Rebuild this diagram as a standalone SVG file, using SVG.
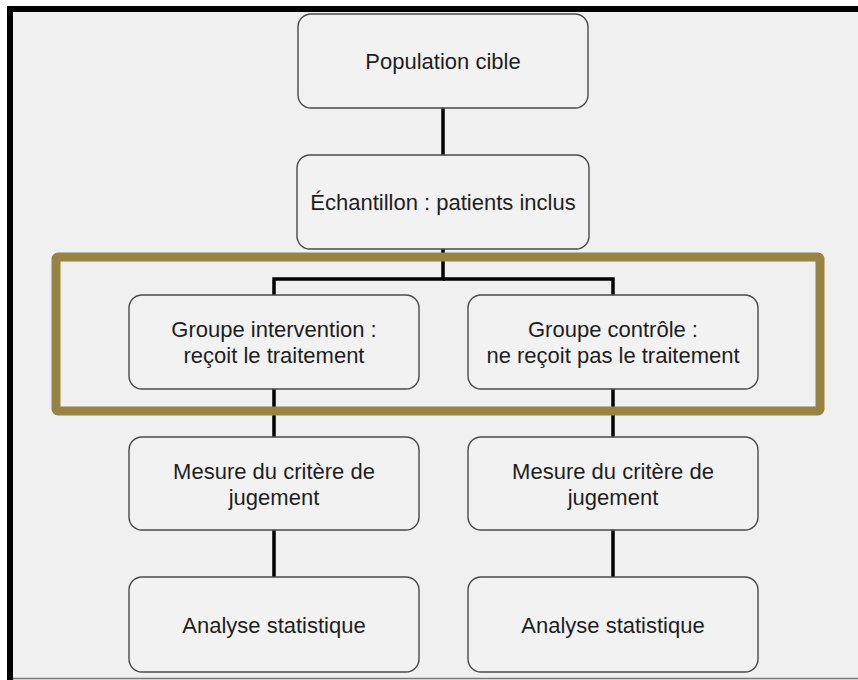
<svg xmlns="http://www.w3.org/2000/svg" width="858" height="680" viewBox="0 0 858 680">
<style>
.box{fill:#f2f2f2;stroke:#4a4a4a;stroke-width:1.4}
.t{font-family:"Liberation Sans",Arial,sans-serif;font-size:22px;fill:#1e1e1e;text-anchor:middle}
.c{fill:none;stroke:#000;stroke-width:3.5}
</style>
<rect x="0" y="0" width="858" height="680" fill="#ffffff"/>
<rect x="10" y="9" width="860" height="680" fill="#f0f0f0" stroke="#000" stroke-width="6"/>
<line x1="13" y1="678.5" x2="858" y2="678.5" stroke="#777" stroke-width="1.5"/>
<g id="connectors">
<line class="c" x1="443" y1="108" x2="443" y2="155"/>
<polyline class="c" points="443,249 443,279 274,279 274,295"/>
<polyline class="c" points="443,279 613,279 613,295"/>
<line class="c" x1="274" y1="389" x2="274" y2="437"/>
<line class="c" x1="613" y1="389" x2="613" y2="437"/>
<line class="c" x1="274" y1="530" x2="274" y2="577"/>
<line class="c" x1="613" y1="530" x2="613" y2="577"/>
</g>
<g id="population">
<rect class="box" x="298" y="14" width="290" height="94" rx="13"/>
<text class="t" x="443" y="69">Population cible</text>
</g>
<g id="echantillon">
<rect class="box" x="297" y="155" width="292" height="94" rx="13"/>
<text class="t" x="443" y="210">Échantillon : patients inclus</text>
</g>
<g id="intervention">
<rect class="box" x="129" y="295" width="290" height="94" rx="13"/>
<text class="t" x="274" y="337">Groupe intervention :</text>
<text class="t" x="274" y="363">reçoit le traitement</text>
</g>
<g id="controle">
<rect class="box" x="468" y="295" width="290" height="94" rx="13"/>
<text class="t" x="613" y="337">Groupe contrôle :</text>
<text class="t" x="613" y="363">ne reçoit pas le traitement</text>
</g>
<g id="mesure1">
<rect class="box" x="129" y="437" width="290" height="93" rx="13"/>
<text class="t" x="274" y="479">Mesure du critère de</text>
<text class="t" x="274" y="505">jugement</text>
</g>
<g id="mesure2">
<rect class="box" x="468" y="437" width="290" height="93" rx="13"/>
<text class="t" x="613" y="479">Mesure du critère de</text>
<text class="t" x="613" y="505">jugement</text>
</g>
<g id="analyse1">
<rect class="box" x="129" y="577" width="290" height="95" rx="13"/>
<text class="t" x="274" y="633">Analyse statistique</text>
</g>
<g id="analyse2">
<rect class="box" x="468" y="577" width="290" height="95" rx="13"/>
<text class="t" x="613" y="633">Analyse statistique</text>
</g>
<g id="highlight">
<rect x="56" y="257" width="764" height="154" rx="2" fill="none" stroke="#978443" stroke-width="9"/>
</g>
</svg>
